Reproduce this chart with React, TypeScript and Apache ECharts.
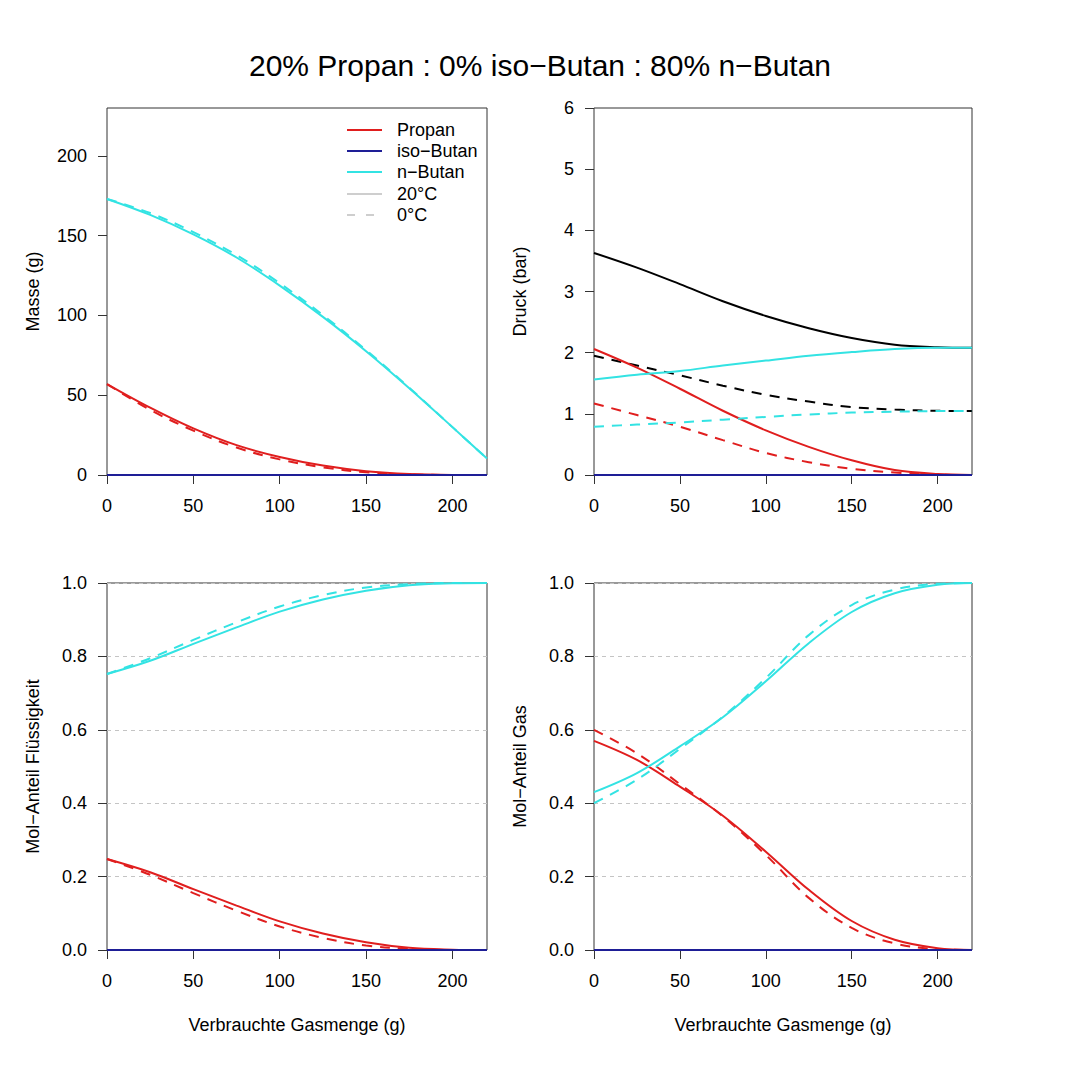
import React, { useEffect, useRef } from "react";
import * as echarts from "echarts";

const TITLE = "20% Propan : 0% iso\u2212Butan : 80% n\u2212Butan";
const X_NAME = "Verbrauchte Gasmenge (g)";
const Y_NAMES = ["Masse (g)", "Druck (bar)", "Mol\u2212Anteil Fl\u00fcssigkeit", "Mol\u2212Anteil Gas"];
const LEGEND_LABELS = ["Propan", "iso\u2212Butan", "n\u2212Butan", "20\u00b0C", "0\u00b0C"];

const X_VALUES = [0, 25, 50, 75, 100, 125, 150, 175, 200, 220];
const X_TICKS = [0, 50, 100, 150, 200];
const MASS_TICKS = [0, 50, 100, 150, 200];

// Masse (g)
const MASS_PROPAN_20 = [57, 42.2, 29.2, 18.7, 11.3, 5.9, 2.4, 0.6, 0.05, 0];
const MASS_PROPAN_0 = [57, 40.8, 27.8, 17.2, 9.8, 4.8, 1.7, 0.35, 0.02, 0];
const MASS_ISO_20 = [0, 0, 0, 0, 0, 0, 0, 0, 0, 0];
const MASS_ISO_0 = [0, 0, 0, 0, 0, 0, 0, 0, 0, 0];
const MASS_BUTAN_20 = [173, 163, 150.8, 136.3, 118.7, 99.1, 77.6, 54.4, 30, 10.3];
const MASS_BUTAN_0 = [173, 164.2, 152.2, 137.8, 120.2, 100.2, 78.3, 54.7, 30, 10.3];

// Druck (bar)
const PRESS_TOTAL_20 = [3.63, 3.39, 3.12, 2.84, 2.6, 2.4, 2.24, 2.13, 2.09, 2.08];
const PRESS_PROPAN_20 = [2.06, 1.755, 1.41, 1.05, 0.73, 0.46, 0.24, 0.08, 0.015, 0];
const PRESS_ISO_20 = [0, 0, 0, 0, 0, 0, 0, 0, 0, 0];
const PRESS_BUTAN_20 = [1.56, 1.64, 1.7, 1.79, 1.87, 1.95, 2.01, 2.06, 2.08, 2.08];
const PRESS_TOTAL_0 = [1.95, 1.79, 1.63, 1.46, 1.31, 1.2, 1.11, 1.07, 1.05, 1.045];
const PRESS_PROPAN_0 = [1.17, 0.98, 0.79, 0.57, 0.36, 0.21, 0.1, 0.04, 0.005, 0];
const PRESS_ISO_0 = [0, 0, 0, 0, 0, 0, 0, 0, 0, 0];
const PRESS_BUTAN_0 = [0.79, 0.825, 0.86, 0.905, 0.95, 0.99, 1.02, 1.035, 1.045, 1.045];

// Mol-Anteil Flüssigkeit
const LIQ_PROPAN_20 = [0.248, 0.212, 0.166, 0.121, 0.078, 0.045, 0.021, 0.006, 0.001, 0];
const LIQ_ISO_20 = [0, 0, 0, 0, 0, 0, 0, 0, 0, 0];
const LIQ_BUTAN_20 = [0.752, 0.788, 0.834, 0.879, 0.922, 0.955, 0.979, 0.994, 0.999, 1];
const LIQ_PROPAN_0 = [0.248, 0.205, 0.155, 0.107, 0.064, 0.033, 0.012, 0.003, 0, 0];
const LIQ_ISO_0 = [0, 0, 0, 0, 0, 0, 0, 0, 0, 0];
const LIQ_BUTAN_0 = [0.752, 0.795, 0.845, 0.893, 0.936, 0.967, 0.988, 0.997, 1, 1];

// Mol-Anteil Gas
const GAS_PROPAN_20 = [0.57, 0.518, 0.445, 0.366, 0.268, 0.164, 0.079, 0.028, 0.005, 0];
const GAS_ISO_20 = [0, 0, 0, 0, 0, 0, 0, 0, 0, 0];
const GAS_BUTAN_20 = [0.43, 0.482, 0.555, 0.634, 0.732, 0.836, 0.921, 0.972, 0.995, 1];
const GAS_PROPAN_0 = [0.6, 0.536, 0.452, 0.364, 0.259, 0.142, 0.06, 0.018, 0.002, 0];
const GAS_ISO_0 = [0, 0, 0, 0, 0, 0, 0, 0, 0, 0];
const GAS_BUTAN_0 = [0.4, 0.464, 0.548, 0.636, 0.741, 0.858, 0.94, 0.982, 0.998, 1];

const RED = "#E01E1E";
const BLUE = "#1E1E96";
const CYAN = "#33E3E3";
const BLACK = "#000000";
const GRAY = "#BEBEBE";
const FONT = "'Liberation Sans', Arial, Helvetica, sans-serif";
const DASH = [10, 8];

const GRIDS = [
  { left: 107, top: 108, width: 380, height: 367 },
  { left: 594, top: 108, width: 378, height: 367 },
  { left: 107, top: 583, width: 380, height: 367 },
  { left: 594, top: 583, width: 378, height: 367 },
];

function mkLine(g: number, ys: number[], color: string, dashed: boolean, z: number) {
  return {
    type: "line",
    xAxisIndex: g,
    yAxisIndex: g,
    data: X_VALUES.map((x, i) => [x, ys[i]]),
    symbol: "none",
    showSymbol: false,
    smooth: 0.35,
    silent: true,
    z,
    lineStyle: { color, width: 2, type: dashed ? DASH : "solid" },
  };
}

function buildOption() {
  const series: any[] = [];
  // panel 0
  series.push(mkLine(0, MASS_PROPAN_20, RED, false, 3));
  series.push(mkLine(0, MASS_ISO_20, BLUE, false, 3));
  series.push(mkLine(0, MASS_BUTAN_20, CYAN, false, 3));
  series.push(mkLine(0, MASS_PROPAN_0, RED, true, 2));
  series.push(mkLine(0, MASS_ISO_0, BLUE, true, 2));
  series.push(mkLine(0, MASS_BUTAN_0, CYAN, true, 2));
  // panel 1
  series.push(mkLine(1, PRESS_TOTAL_20, BLACK, false, 2));
  series.push(mkLine(1, PRESS_PROPAN_20, RED, false, 3));
  series.push(mkLine(1, PRESS_ISO_20, BLUE, false, 3));
  series.push(mkLine(1, PRESS_BUTAN_20, CYAN, false, 3));
  series.push(mkLine(1, PRESS_TOTAL_0, BLACK, true, 2));
  series.push(mkLine(1, PRESS_PROPAN_0, RED, true, 2));
  series.push(mkLine(1, PRESS_ISO_0, BLUE, true, 2));
  series.push(mkLine(1, PRESS_BUTAN_0, CYAN, true, 3));
  // panel 2
  series.push(mkLine(2, LIQ_PROPAN_20, RED, false, 3));
  series.push(mkLine(2, LIQ_ISO_20, BLUE, false, 3));
  series.push(mkLine(2, LIQ_BUTAN_20, CYAN, false, 3));
  series.push(mkLine(2, LIQ_PROPAN_0, RED, true, 2));
  series.push(mkLine(2, LIQ_ISO_0, BLUE, true, 2));
  series.push(mkLine(2, LIQ_BUTAN_0, CYAN, true, 2));
  // panel 3
  series.push(mkLine(3, GAS_PROPAN_20, RED, false, 3));
  series.push(mkLine(3, GAS_ISO_20, BLUE, false, 3));
  series.push(mkLine(3, GAS_BUTAN_20, CYAN, false, 3));
  series.push(mkLine(3, GAS_PROPAN_0, RED, true, 2));
  series.push(mkLine(3, GAS_ISO_0, BLUE, true, 2));
  series.push(mkLine(3, GAS_BUTAN_0, CYAN, true, 2));

  const tickStyle = { show: true, length: 9, lineStyle: { color: "#333", width: 1 } };
  const labelBase = { fontSize: 18, color: "#000", fontFamily: FONT };
  const nameStyle = { fontSize: 18, color: "#000", fontFamily: FONT };

  const xAxis = GRIDS.map((_, i) => ({
    type: "value",
    gridIndex: i,
    min: 0,
    max: 220,
    axisLine: { show: false },
    axisTick: { ...tickStyle, customValues: X_TICKS },
    axisLabel: { ...labelBase, margin: 22, customValues: X_TICKS },
    splitLine: { show: false },
    name: i >= 2 ? X_NAME : "",
    nameLocation: "middle",
    nameGap: 66,
    nameTextStyle: nameStyle,
  }));

  const yAxis = GRIDS.map((_, i) => {
    const base: any = {
      type: "value",
      gridIndex: i,
      axisLine: { show: false },
      axisTick: { ...tickStyle },
      axisLabel: { ...labelBase, margin: 20 },
      name: Y_NAMES[i],
      nameLocation: "middle",
      nameRotate: 90,
      nameGap: 65,
      nameTextStyle: nameStyle,
      splitLine: { show: false },
    };
    if (i === 0) {
      base.min = 0;
      base.max = 230;
      base.axisTick = { ...tickStyle, customValues: MASS_TICKS };
      base.axisLabel = { ...labelBase, margin: 20, customValues: MASS_TICKS };
    } else if (i === 1) {
      base.min = 0;
      base.max = 6;
      base.interval = 1;
    } else {
      base.min = 0;
      base.max = 1;
      base.interval = 0.2;
      base.axisLabel = { ...labelBase, margin: 20, formatter: (v: number) => v.toFixed(1) };
      base.splitLine = { show: true, lineStyle: { color: "#C4C4C4", width: 1, type: [4, 4] } };
    }
    return base;
  });

  // legend drawn as graphic
  const legX1 = 347;
  const legX2 = 382;
  const legTextX = 397;
  const rowY = [130, 151, 172, 194, 215];
  const legColors = [RED, BLUE, CYAN, GRAY, GRAY];
  const legendEls: any[] = [];
  LEGEND_LABELS.forEach((lab, i) => {
    legendEls.push({
      type: "line",
      shape: { x1: legX1, y1: rowY[i], x2: legX2, y2: rowY[i] },
      style: {
        stroke: legColors[i],
        lineWidth: i < 3 ? 2 : 1.5,
        lineDash: i === 4 ? [8, 11] : null,
      },
      silent: true,
    });
    legendEls.push({
      type: "text",
      x: legTextX,
      y: rowY[i],
      style: {
        text: lab,
        fill: "#000",
        fontSize: 18,
        fontFamily: FONT,
        verticalAlign: "middle",
        align: "left",
      },
      silent: true,
    });
  });

  return {
    animation: false,
    backgroundColor: "#fff",
    textStyle: { fontFamily: FONT },
    title: {
      text: TITLE,
      left: "center",
      top: 45,
      textStyle: { fontSize: 30, fontWeight: "normal", color: "#000", fontFamily: FONT },
    },
    grid: GRIDS.map((g) => ({ ...g, show: true, borderColor: "#333", borderWidth: 1, backgroundColor: "transparent", containLabel: false })),
    xAxis,
    yAxis,
    series,
    graphic: legendEls,
  };
}

export default function App() {
  const ref = useRef<HTMLDivElement>(null);
  useEffect(() => {
    if (!ref.current) return;
    const chart = echarts.init(ref.current, null, { renderer: "svg" });
    chart.setOption(buildOption() as any);
    return () => chart.dispose();
  }, []);
  return (
    <div
      ref={ref}
      style={{ position: "absolute", left: 0, top: 0, width: 1080, height: 1080, background: "#fff" }}
    />
  );
}
